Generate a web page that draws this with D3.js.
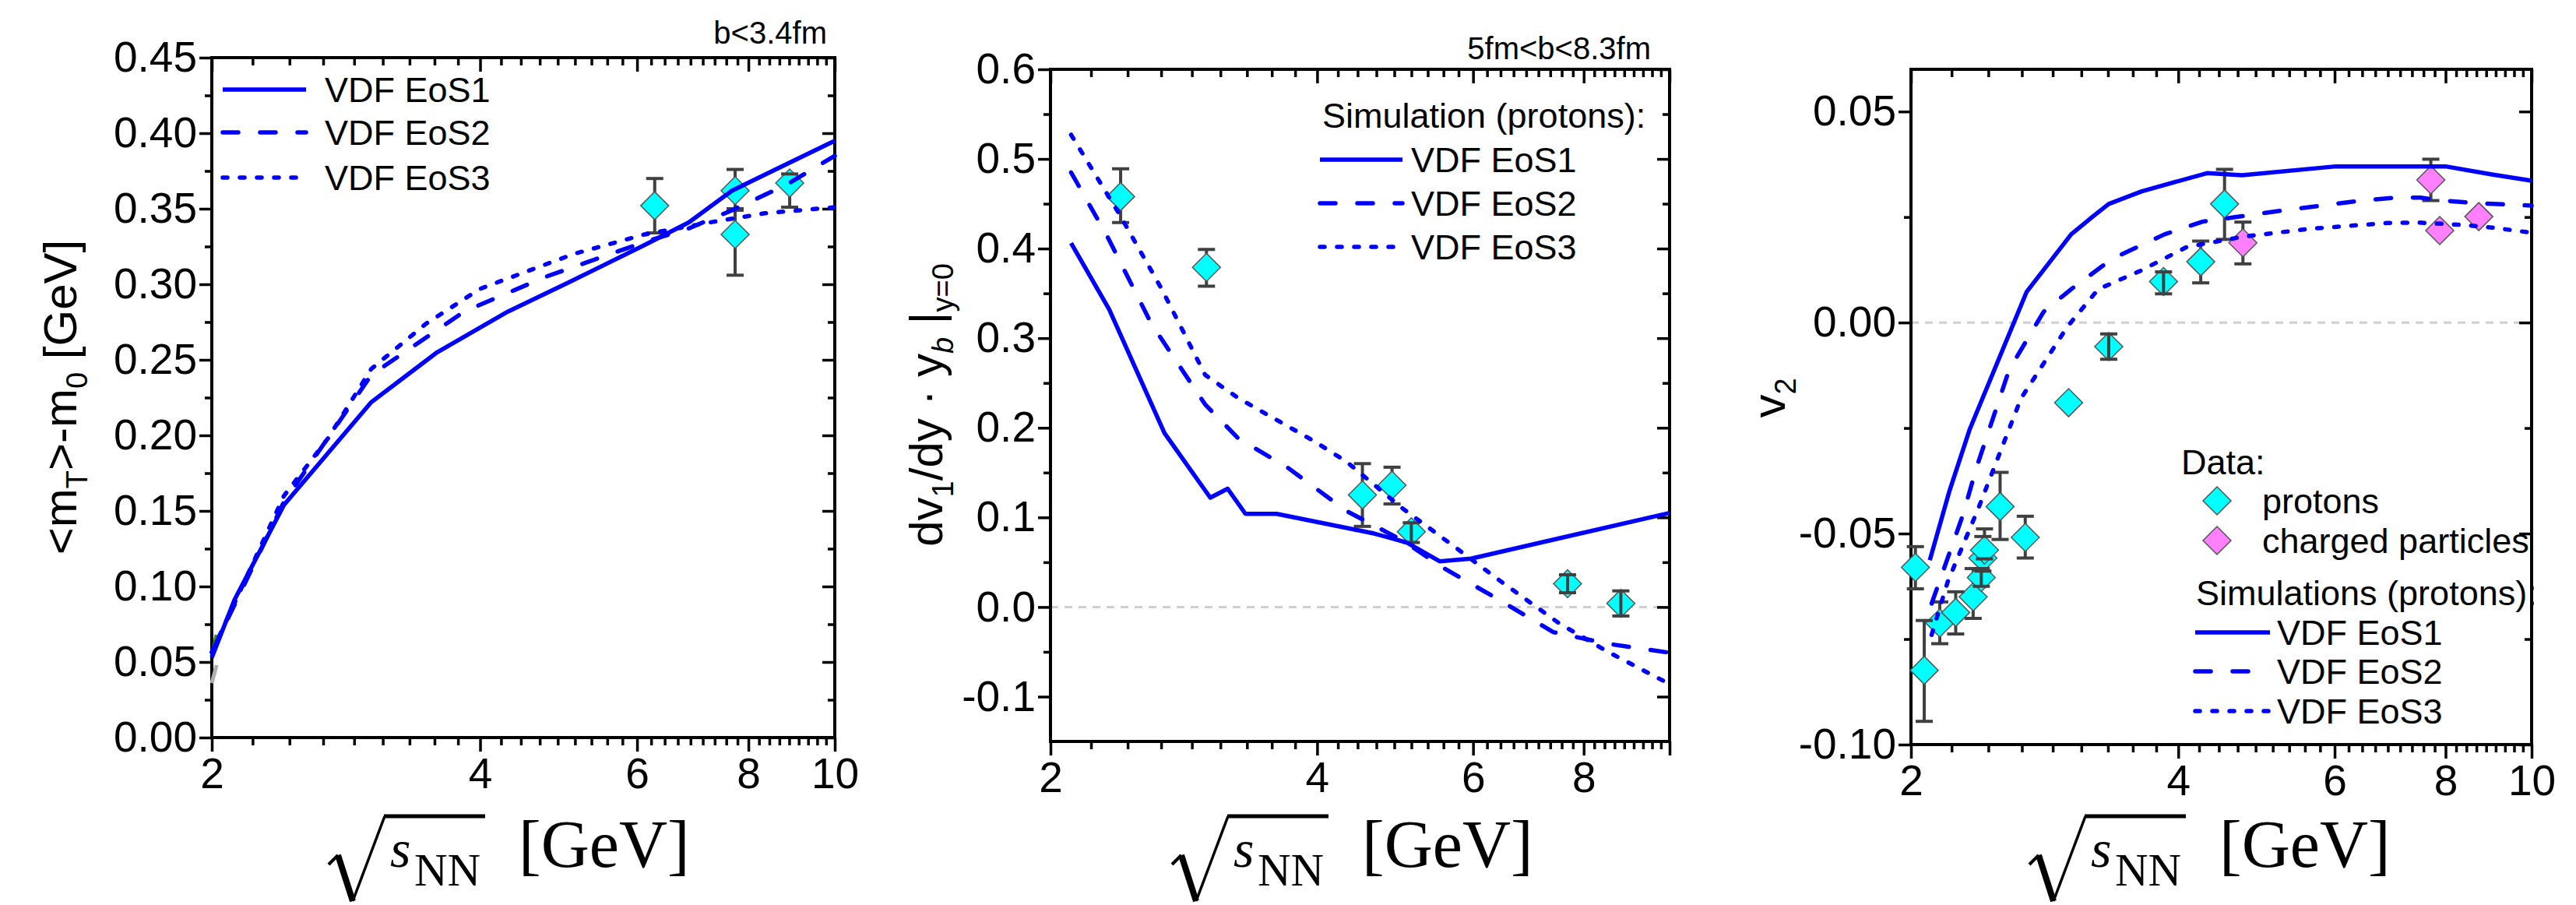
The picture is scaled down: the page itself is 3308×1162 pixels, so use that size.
<!DOCTYPE html>
<html>
<head>
<meta charset="utf-8">
<script src="https://d3js.org/d3.v7.min.js"></script>
<style>
  body { margin: 0; background: #fff; }
  svg { display: block; font-family: "Liberation Sans", Arial, sans-serif; }
</style>
</head>
<body>
<svg id="fig" width="3308" height="1162"></svg>
<script>
// ---- panel 1: <mT>-m0 ----
const mtX1 = [2.0, 2.12, 2.41, 3.02, 3.58, 4.30, 5.02, 6.12, 6.86, 7.67, 10];
const mtY1 = [0.053, 0.091, 0.154, 0.222, 0.255, 0.282, 0.301, 0.326, 0.341, 0.362, 0.395];
const mtX2 = [2.0, 2.41, 3.02, 3.84, 4.74, 6.12, 6.86, 7.67, 8.83, 10];
const mtY2 = [0.0565, 0.156, 0.240, 0.282, 0.305, 0.328, 0.337, 0.349, 0.366, 0.385];
const mtX3 = [2.0, 2.41, 2.70, 3.02, 3.48, 4.0, 5.09, 6.12, 7.25, 8.35, 10];
const mtY3 = [0.0565, 0.160, 0.198, 0.244, 0.274, 0.297, 0.320, 0.333, 0.341, 0.347, 0.351];
const mtDataX = [6.28, 7.73, 7.73, 8.9];
const mtDataY = [0.352, 0.362, 0.333, 0.367];
const mtDataLo = [0.334, 0.349, 0.306, 0.351];
const mtDataHi = [0.370, 0.376, 0.350, 0.373];
// short stubs of other curves visible at the left edge
const stubX = [2.0, 2.025];
const stubGrayY = [0.036, 0.048];
const stubGreenY = [0.054, 0.068];

// ---- panel 2: dv1/dy ----
const v1X1 = [2.11, 2.33, 2.69, 3.03, 3.17, 3.32, 3.60, 4.64, 5.05, 5.50, 5.97, 10];
const v1Y1 = [0.406, 0.332, 0.194, 0.122, 0.132, 0.104, 0.104, 0.082, 0.072, 0.051, 0.054, 0.105];
const v1X2 = [2.11, 2.32, 2.60, 2.99, 3.26, 3.70, 4.32, 4.98, 5.57, 6.42, 7.39, 8.52, 10];
const v1Y2 = [0.485, 0.413, 0.316, 0.226, 0.188, 0.156, 0.107, 0.075, 0.043, 0.008, -0.028, -0.041, -0.051];
const v1X3 = [2.11, 2.39, 2.67, 2.99, 3.26, 3.97, 4.32, 4.98, 5.74, 6.42, 7.50, 8.52, 10];
const v1Y3 = [0.527, 0.439, 0.355, 0.259, 0.233, 0.185, 0.162, 0.111, 0.066, 0.030, -0.018, -0.050, -0.086];
const v1DataX = [2.40, 3.00, 4.50, 4.86, 5.11, 7.67, 8.81];
const v1DataY = [0.458, 0.379, 0.125, 0.136, 0.084, 0.026, 0.004];
const v1DataLo = [0.429, 0.358, 0.090, 0.115, 0.072, 0.016, -0.010];
const v1DataHi = [0.489, 0.399, 0.160, 0.156, 0.094, 0.036, 0.018];

// ---- panel 3: v2 ----
const v2X1 = [2.10, 2.21, 2.33, 2.70, 3.03, 3.20, 3.34, 3.64, 4.31, 4.72, 6.02, 8.0, 9.02, 10];
const v2Y1 = [-0.0563, -0.0399, -0.0252, 0.0073, 0.0209, 0.025, 0.0281, 0.0311, 0.0354, 0.0349, 0.0370, 0.0370, 0.0351, 0.0336];
const v2X2 = [2.11, 2.29, 2.37, 2.58, 2.82, 3.03, 3.37, 3.86, 4.26, 4.72, 5.22, 6.38, 7.03, 7.5, 7.85, 8.66, 10];
const v2Y2 = [-0.0666, -0.0454, -0.0344, -0.0112, 0.0025, 0.0079, 0.0151, 0.0209, 0.0239, 0.0252, 0.0265, 0.0288, 0.0296, 0.0296, 0.029, 0.0283, 0.0277];
const v2X3 = [2.11, 2.20, 2.38, 2.66, 3.00, 3.25, 3.63, 4.09, 4.72, 5.62, 6.89, 7.44, 8.42, 9.02, 10];
const v2Y3 = [-0.074, -0.0614, -0.0442, -0.018, -0.001, 0.0079, 0.0123, 0.0179, 0.0203, 0.0222, 0.0236, 0.0237, 0.0231, 0.0225, 0.0213];
const protX = [2.023, 2.07, 2.155, 2.246, 2.35, 2.40, 2.41, 2.42, 2.52, 2.69, 3.01, 3.34, 3.85, 4.24, 4.51];
const protY = [-0.058, -0.0824, -0.0712, -0.0687, -0.0650, -0.0604, -0.0558, -0.0539, -0.0436, -0.0509, -0.019, -0.0057, 0.0097, 0.0144, 0.0281];
const protLo = [-0.0631, -0.0945, -0.0761, -0.0738, -0.0701, -0.0625, -0.0589, -0.0560, -0.0514, -0.0558, -0.019, -0.0087, 0.0068, 0.0094, 0.0197];
const protHi = [-0.0531, -0.0706, -0.0662, -0.0638, -0.0583, -0.0583, -0.0507, -0.0489, -0.0355, -0.0459, -0.019, -0.0027, 0.0120, 0.0193, 0.0363];
const chX = [4.73, 7.70, 7.88, 8.72];
const chY = [0.0189, 0.0338, 0.0218, 0.0251];
const chLo = [0.0139, 0.0289, 0.0218, 0.0251];
const chHi = [0.0238, 0.0387, 0.0218, 0.0251];

const xMajor = [2, 4, 6, 8, 10];
const eosNames = ["VDF EoS1", "VDF EoS2", "VDF EoS3"];

const blue = "#0000ff";
const dashes = [null, "20,28", "6,16"];
const cyan = "#00ffff", violet = "#ff80ff";

const svg = d3.select("#fig");
svg.append("rect").attr("width", 3308).attr("height", 1162).attr("fill", "#fff");

let xMinor = [];
for (let i = 0; i < xMajor.length - 1; i++) {
  const a = xMajor[i], b = xMajor[i + 1];
  for (let k = 1; k <= 8; k++) xMinor.push(a + (b - a) * k / 9);
}

function fmt(dec) {
  return d => d.toFixed(dec).replace("\u2212", "-");
}

function zip(xs, ys) { return xs.map((v, i) => [v, ys[i]]); }

function drawPanel(p) {
  const x = d3.scaleLog().domain([2, 10]).range([p.left, p.right]);
  const y = d3.scaleLinear().domain(p.yDomain).range([p.bottom, p.top]);
  const g = svg.append("g");

  // zero line
  if (p.zero) {
    g.append("line")
      .attr("x1", p.left).attr("x2", p.right)
      .attr("y1", y(0)).attr("y2", y(0))
      .attr("stroke", "#cfcfcf").attr("stroke-width", 3)
      .attr("stroke-dasharray", "10,8");
  }

  const axes = [];
  axes.push(g.append("g").attr("transform", `translate(0,${p.bottom})`)
    .call(d3.axisBottom(x).tickValues(xMajor).tickSize(18).tickPadding(8)
      .tickFormat(d => p.xLabels.includes(d) ? String(d) : "")));
  axes.push(g.append("g").attr("transform", `translate(0,${p.bottom})`)
    .call(d3.axisBottom(x).tickValues(xMinor).tickSize(10).tickFormat("")));
  axes.push(g.append("g").attr("transform", `translate(0,${p.top})`)
    .call(d3.axisBottom(x).tickValues(xMajor).tickSize(18).tickFormat("")));
  axes.push(g.append("g").attr("transform", `translate(0,${p.top})`)
    .call(d3.axisBottom(x).tickValues(xMinor).tickSize(10).tickFormat("")));
  axes.push(g.append("g").attr("transform", `translate(${p.left},0)`)
    .call(d3.axisLeft(y).tickValues(p.yMajor).tickSize(16).tickPadding(3).tickFormat(fmt(p.dec))));
  axes.push(g.append("g").attr("transform", `translate(${p.left},0)`)
    .call(d3.axisLeft(y).tickValues(p.yMinor).tickSize(9).tickFormat("")));
  axes.push(g.append("g").attr("transform", `translate(${p.right},0)`)
    .call(d3.axisLeft(y).tickValues(p.yMajor).tickSize(16).tickFormat("")));
  axes.push(g.append("g").attr("transform", `translate(${p.right},0)`)
    .call(d3.axisLeft(y).tickValues(p.yMinor).tickSize(9).tickFormat("")));
  axes.forEach(a => {
    a.select(".domain").remove();
    a.attr("font-family", null).attr("font-size", null);
    a.selectAll("line").attr("stroke", "#000").attr("stroke-width", 3.5);
    a.selectAll("text").attr("fill", "#000").style("font-size", "55px");
  });

  g.append("rect")
    .attr("x", p.left).attr("y", p.top)
    .attr("width", p.right - p.left).attr("height", p.bottom - p.top)
    .attr("fill", "none").attr("stroke", "#000").attr("stroke-width", 4);

  // data points: bars behind, diamonds, caps on top
  const s = 18, cap = 11;
  p.points.forEach(set => {
    const pts = set.x.map((v, i) => ({ x: v, y: set.y[i], lo: set.lo[i], hi: set.hi[i] }));
    const bars = g.append("g").attr("stroke", "#404040").attr("stroke-width", 4);
    pts.forEach(d => {
      if (d.lo === d.hi) return;
      bars.append("line").attr("x1", x(d.x)).attr("x2", x(d.x))
        .attr("y1", y(d.lo)).attr("y2", y(d.hi));
    });
    g.append("g").selectAll("path").data(pts).join("path")
      .attr("d", d => {
        const cx = x(d.x), cy = y(d.y);
        return `M${cx},${cy - s}L${cx + s},${cy}L${cx},${cy + s}L${cx - s},${cy}Z`;
      })
      .attr("fill", set.color).attr("stroke", "#555").attr("stroke-width", 1.5);
    const caps = g.append("g").attr("stroke", "#404040").attr("stroke-width", 4);
    pts.forEach(d => {
      if (d.lo === d.hi) return;
      const cx = x(d.x);
      [d.lo, d.hi].forEach(v => {
        caps.append("line").attr("x1", cx - cap).attr("x2", cx + cap)
          .attr("y1", y(v)).attr("y2", y(v));
      });
      if (Math.abs(y(d.lo) - y(d.y)) < s && Math.abs(y(d.hi) - y(d.y)) < s) {
        caps.append("line").attr("x1", cx).attr("x2", cx)
          .attr("y1", y(d.lo)).attr("y2", y(d.hi));
      }
    });
  });

  const line = d3.line().x(d => x(d[0])).y(d => y(d[1]));

  // stubs of other curves
  (p.stubs || []).forEach(st => {
    g.append("path").datum(st.pts).attr("d", line)
      .attr("fill", "none").attr("stroke", st.color).attr("stroke-width", 5);
  });

  // simulation lines
  p.lines.forEach((ln, i) => {
    g.append("path").datum(ln)
      .attr("d", line)
      .attr("fill", "none").attr("stroke", blue).attr("stroke-width", 5.5)
      .attr("stroke-linejoin", "round")
      .attr("stroke-linecap", dashes[i] ? "round" : "butt")
      .attr("stroke-dasharray", dashes[i]);
  });
  return g;
}

function legendLines(x1, x2, tx, rows) {
  rows.forEach((ry, i) => {
    svg.append("line").attr("x1", x1).attr("x2", x2).attr("y1", ry).attr("y2", ry)
      .attr("stroke", blue).attr("stroke-width", 5.5)
      .attr("stroke-linecap", dashes[i] ? "round" : "butt")
      .attr("stroke-dasharray", dashes[i]);
    svg.append("text").attr("x", tx).attr("y", ry).attr("dy", "0.36em")
      .style("font-size", "45px").text(eosNames[i]);
  });
}

function xTitle(x0) {
  const base = 1113;
  const t = svg.append("g").attr("stroke", "#000").attr("fill", "none");
  t.append("path").attr("d", `M${x0},${base - 3}L${x0 + 12},${base - 15}`).attr("stroke-width", 4);
  t.append("path").attr("d", `M${x0 + 12},${base - 15}L${x0 + 31},${base + 44}`).attr("stroke-width", 8);
  t.append("path").attr("d", `M${x0 + 31},${base + 44}L${x0 + 72},${base - 65}`).attr("stroke-width", 3.5);
  t.append("path").attr("d", `M${x0 + 71},${base - 65}L${x0 + 201},${base - 65}`).attr("stroke-width", 5);
  const f = "'Liberation Serif', 'Times New Roman', serif";
  svg.append("text").attr("x", x0 + 79).attr("y", base).style("font-family", f)
    .style("font-style", "italic").style("font-size", "68px").text("s");
  svg.append("text").attr("x", x0 + 110).attr("y", base + 24).style("font-family", f)
    .style("font-size", "59px").text("NN");
  svg.append("text").attr("x", x0 + 244).attr("y", base).style("font-family", f)
    .style("font-size", "86px").text("[GeV]");
}

// ---------------- panel 1 ----------------
drawPanel({
  left: 272, right: 1072, top: 74, bottom: 947,
  yDomain: [0, 0.45], dec: 2,
  yMajor: d3.range(0, 10).map(i => i * 0.05),
  yMinor: d3.range(0, 9).map(i => 0.025 + i * 0.05),
  xLabels: [2, 4, 6, 8, 10],
  stubs: [{ pts: zip(stubX, stubGrayY), color: "#b0b0b0" }, { pts: zip(stubX, stubGreenY), color: "#2e8b22" }],
  lines: [zip(mtX1, mtY1), zip(mtX2, mtY2), zip(mtX3, mtY3)],
  points: [{ x: mtDataX, y: mtDataY, lo: mtDataLo, hi: mtDataHi, color: cyan }]
});
legendLines(286, 393, 417, [115, 170, 228]);
svg.append("text").attr("x", 1062).attr("y", 56).attr("text-anchor", "end")
  .style("font-size", "40px").text("b<3.4fm");
{
  const t = svg.append("text").attr("transform", "translate(98,510) rotate(-90)")
    .attr("text-anchor", "middle").style("font-size", "60px");
  t.append("tspan").text("<m");
  t.append("tspan").style("font-size", "38px").attr("dy", 14).text("T");
  t.append("tspan").attr("dy", -14).text(">-m");
  t.append("tspan").style("font-size", "38px").attr("dy", 14).text("0");
  t.append("tspan").attr("dy", -14).text(" [GeV]");
}
xTitle(422);

// ---------------- panel 2 ----------------
drawPanel({
  left: 1349, right: 2144, top: 89, bottom: 952,
  yDomain: [-0.15, 0.6], dec: 1, zero: true,
  yMajor: d3.range(0, 8).map(i => -0.1 + i * 0.1),
  yMinor: d3.range(0, 7).map(i => -0.05 + i * 0.1),
  xLabels: [2, 4, 6, 8],
  lines: [zip(v1X1, v1Y1), zip(v1X2, v1Y2), zip(v1X3, v1Y3)],
  points: [{ x: v1DataX, y: v1DataY, lo: v1DataLo, hi: v1DataHi, color: cyan }]
});
svg.append("text").attr("x", 2120).attr("y", 76).attr("text-anchor", "end")
  .style("font-size", "40px").text("5fm<b<8.3fm");
svg.append("text").attr("x", 1698).attr("y", 148).attr("dy", "0.36em")
  .style("font-size", "45px").text("Simulation (protons):");
legendLines(1695, 1801, 1812, [205, 261, 317]);
{
  const t = svg.append("text").attr("transform", "translate(1210,520) rotate(-90)")
    .attr("text-anchor", "middle").style("font-size", "60px");
  t.append("tspan").text("dv");
  t.append("tspan").style("font-size", "38px").attr("dy", 14).text("1");
  t.append("tspan").attr("dy", -14).text("/dy \u00b7 y");
  t.append("tspan").style("font-size", "38px").style("font-style", "italic").attr("dy", 14).text("b");
  t.append("tspan").attr("dy", -14).text(" |");
  t.append("tspan").style("font-size", "38px").attr("dy", 14).text("y=0");
}
xTitle(1505);

// ---------------- panel 3 ----------------
drawPanel({
  left: 2454, right: 3251, top: 89, bottom: 956,
  yDomain: [-0.1, 0.06], dec: 2, zero: true,
  yMajor: [-0.1, -0.05, 0, 0.05],
  yMinor: [-0.075, -0.025, 0.025],
  xLabels: [2, 4, 6, 8, 10],
  lines: [zip(v2X1, v2Y1), zip(v2X2, v2Y2), zip(v2X3, v2Y3)],
  points: [
    { x: protX, y: protY, lo: protLo, hi: protHi, color: cyan },
    { x: chX, y: chY, lo: chLo, hi: chHi, color: violet }
  ]
});
svg.append("text").attr("x", 2801).attr("y", 593).attr("dy", "0.36em")
  .style("font-size", "45px").text("Data:");
[[643, cyan, "protons"], [694, violet, "charged particles"]].forEach(([ry, c, label]) => {
  const cx = 2847, s = 18;
  svg.append("path").attr("d", `M${cx},${ry - s}L${cx + s},${ry}L${cx},${ry + s}L${cx - s},${ry}Z`)
    .attr("fill", c).attr("stroke", "#555").attr("stroke-width", 1.5);
  svg.append("text").attr("x", 2905).attr("y", ry).attr("dy", "0.36em")
    .style("font-size", "45px").text(label);
});
svg.append("text").attr("x", 2820).attr("y", 761).attr("dy", "0.36em")
  .style("font-size", "45px").text("Simulations (protons):");
legendLines(2819, 2915, 2924, [812, 862, 913]);
{
  const t = svg.append("text").attr("transform", "translate(2292,511) rotate(-90)")
    .attr("text-anchor", "middle").style("font-size", "60px");
  t.append("tspan").text("v");
  t.append("tspan").style("font-size", "38px").attr("dy", 14).text("2");
}
xTitle(2606);
</script>
</body>
</html>
